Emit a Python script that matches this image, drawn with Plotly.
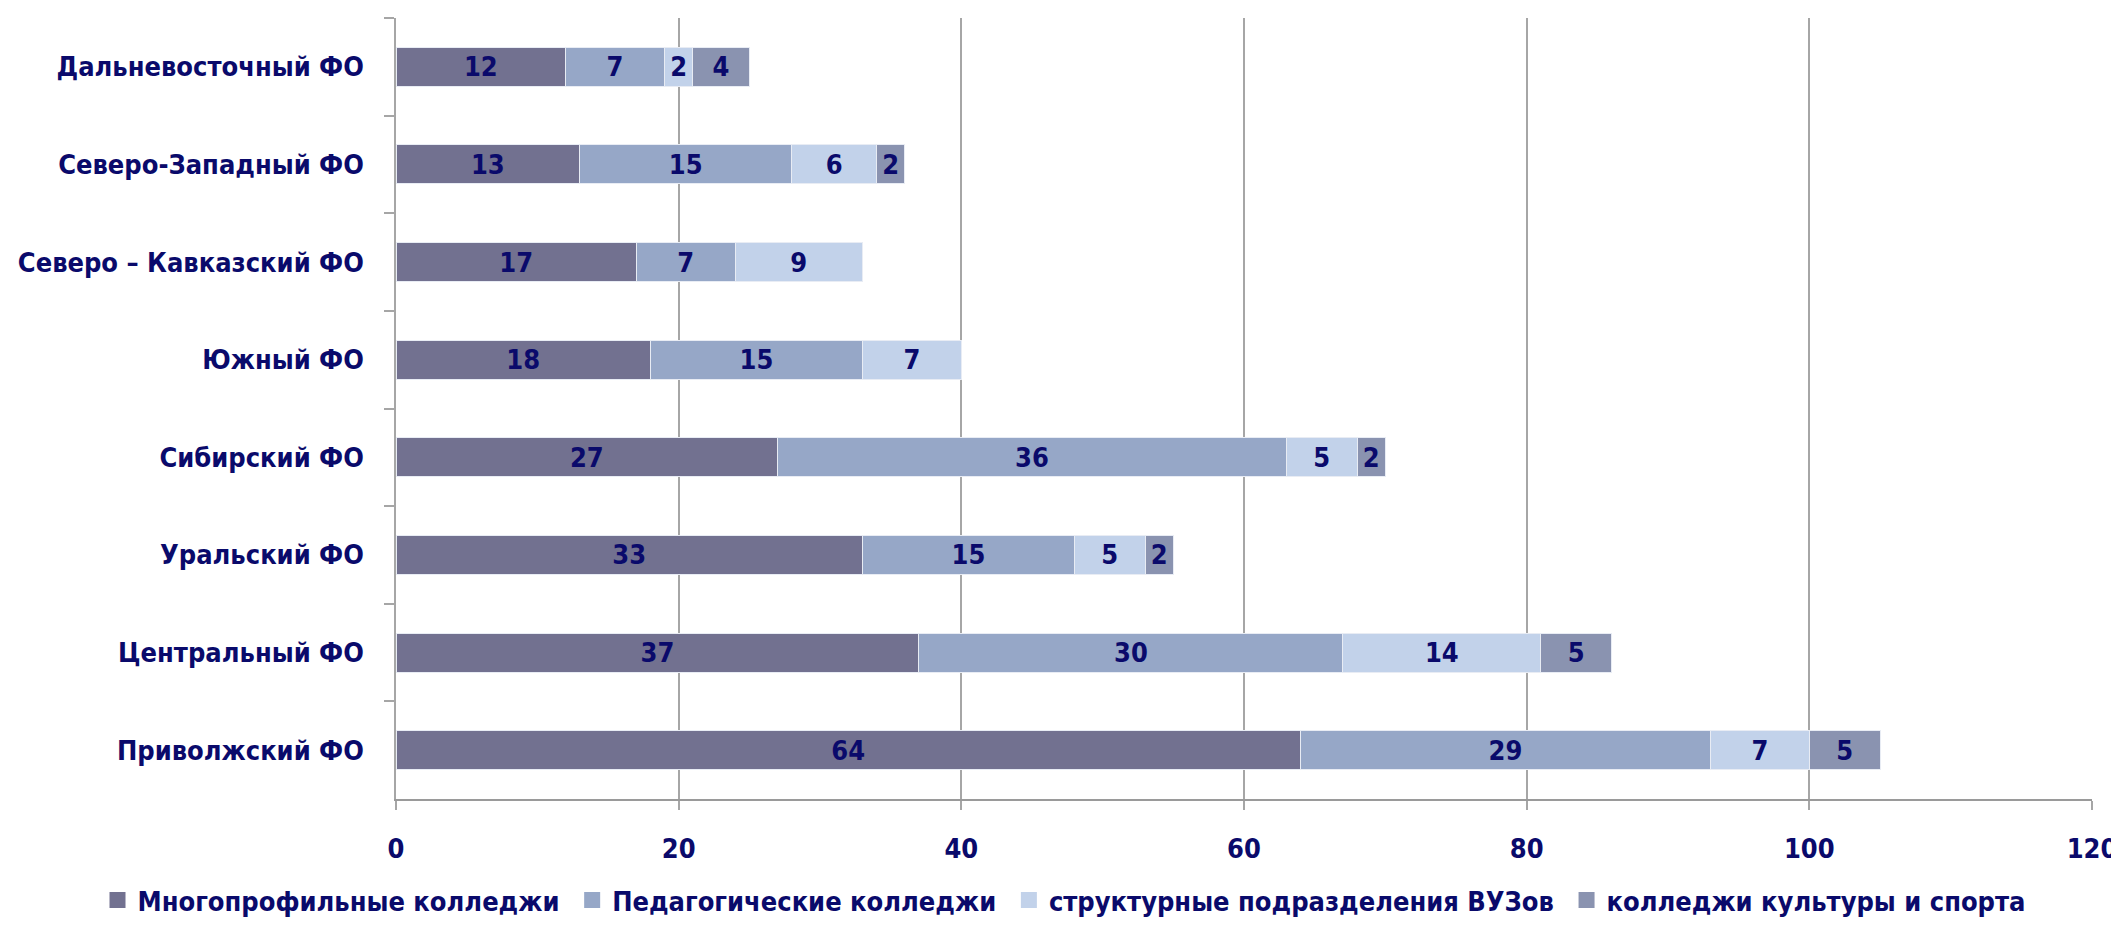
import plotly.graph_objects as go

categories = ["Дальневосточный ФО", "Северо-Западный ФО", "Северо – Кавказский ФО",
              "Южный ФО", "Сибирский ФО", "Уральский ФО", "Центральный ФО", "Приволжский ФО"]
multi = [12, 13, 17, 18, 27, 33, 37, 64]
pedag = [7, 15, 7, 15, 36, 15, 30, 29]
vuz = [2, 6, 9, 7, 5, 5, 14, 7]
cult = [4, 2, None, None, 2, 2, 5, 5]

series_names = ["Многопрофильные колледжи", "Педагогические колледжи",
                "структурные подразделения ВУЗов", "колледжи культуры и спорта"]
series_values = [multi, pedag, vuz, cult]
colors = ["#727190", "#96A7C7", "#C2D2EA", "#8A93B0"]

FONT = "Liberation Sans Narrow, DejaVu Sans Condensed, Arial Narrow, sans-serif"
NAVY = "#0A0A6B"
FS = 27

fig = go.Figure()
for name, vals, col in zip(series_names, series_values, colors):
    fig.add_trace(go.Bar(
        y=categories, x=vals, name=name, orientation="h", showlegend=False,
        marker=dict(color=col, line=dict(color="#E8ECF4", width=1)),
        text=[("<b>%d</b>" % v) if v else "" for v in vals],
        textposition="inside", insidetextanchor="middle",
        textfont=dict(family=FONT, size=FS, color=NAVY),
        constraintext="none",
    ))
# legend entries with larger square symbols
for name, col in zip(series_names, colors):
    fig.add_trace(go.Scatter(
        x=[None], y=[None], mode="markers", name="<b>%s</b>&nbsp;" % name,
        marker=dict(symbol="square", size=17, color=col),
    ))

fig.update_layout(
    barmode="stack",
    bargap=0.6,
    width=2119, height=927,
    paper_bgcolor="white", plot_bgcolor="white",
    margin=dict(l=388, r=27, t=10, b=114),
    font=dict(family=FONT, color=NAVY),
    uniformtext=dict(minsize=FS, mode=False),
    legend=dict(orientation="h", x=-0.176, xanchor="left",
                y=-0.13, yanchor="middle",
                font=dict(family=FONT, size=FS, color=NAVY),
                traceorder="normal", itemwidth=30, tracegroupgap=0),
    xaxis=dict(range=[0, 120], dtick=20, showgrid=True, gridcolor="#A6A6A6", gridwidth=1.5,
               showline=True, linecolor="#9A9A9A", linewidth=2, zeroline=False,
               ticks="outside", ticklen=9, tickcolor="#A6A6A6", tickwidth=1.5,
               ticklabelstandoff=16,
               tickfont=dict(family=FONT, size=FS, color=NAVY),
               tickprefix="<b>", ticksuffix="</b>"),
    yaxis=dict(autorange="reversed", showline=True, linecolor="#A6A6A6", linewidth=1.5,
               ticks="outside", tickson="boundaries", ticklen=10, tickcolor="#A6A6A6",
               tickwidth=1.5, showgrid=False, ticklabelstandoff=25, automargin=False,
               tickfont=dict(family=FONT, size=FS, color=NAVY),
               tickprefix="<b>", ticksuffix="</b>"),
)

fig.write_html("out.html")
